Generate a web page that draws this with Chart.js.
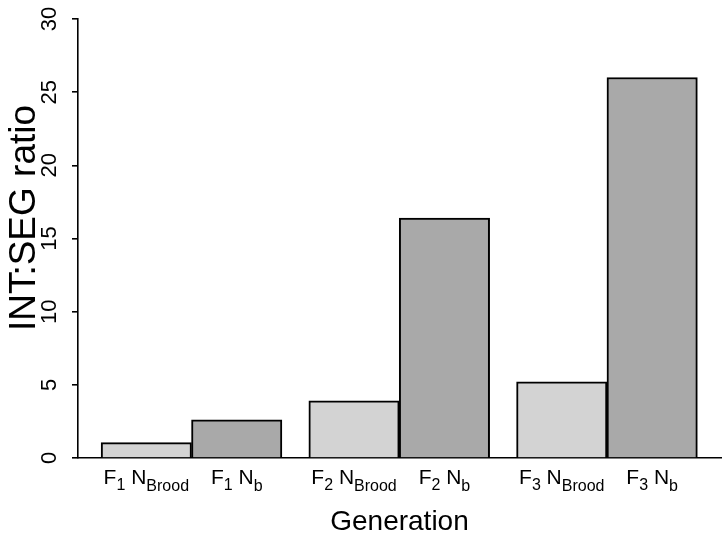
<!DOCTYPE html>
<html>
<head>
<meta charset="utf-8">
<script src="https://cdn.jsdelivr.net/npm/chart.js@4/dist/chart.umd.min.js"></script>
<style>
  html, body { margin: 0; padding: 0; background: #fff; }
  canvas { display: block; }
</style>
</head>
<body>
<canvas id="ratio-chart" width="725" height="534"></canvas>
<script>
const generations = ["1", "2", "3"];
const broodValues = [1.05, 3.9, 5.2];
const nbValues = [2.6, 16.4, 26.0];
const seriesSubs = ["Brood", "b"];
const yTicks = [0, 5, 10, 15, 20, 25, 30];

const FONT = "'Liberation Sans', Arial, Helvetica, sans-serif";

function toPoints(values) {
  return values.map((v, i) => ({ x: i + 1, y: v }));
}

const labelPlugin = {
  id: "rLabels",
  afterDraw(chart) {
    const { ctx, chartArea, scales } = chart;
    const y = scales.y;
    ctx.save();
    ctx.fillStyle = "#000";

    // y tick labels, rotated like R's las=0
    ctx.font = `22px ${FONT}`;
    ctx.textAlign = "center";
    ctx.textBaseline = "alphabetic";
    yTicks.forEach((v) => {
      const py = y.getPixelForValue(v);
      ctx.save();
      ctx.translate(56, py);
      ctx.rotate(-Math.PI / 2);
      ctx.fillText(String(v), 0, 0);
      ctx.restore();
    });

    // bar labels with subscripts
    ctx.textAlign = "left";
    const mainFont = `21px ${FONT}`;
    const subFont = `16px ${FONT}`;
    const baseY = 484;
    [0, 1].forEach((d) => {
      const meta = chart.getDatasetMeta(d);
      meta.data.forEach((bar, i) => {
        const parts = [
          ["F", mainFont, 0],
          [generations[i], subFont, 6],
          [" ", mainFont, 0],
          ["N", mainFont, 0],
          [seriesSubs[d], subFont, 7],
        ];
        let total = 0;
        parts.forEach(([t, f]) => {
          ctx.font = f;
          total += ctx.measureText(t).width;
        });
        let px = bar.x - total / 2;
        parts.forEach(([t, f, dy]) => {
          ctx.font = f;
          ctx.fillText(t, px, baseY + dy);
          px += ctx.measureText(t).width;
        });
      });
    });

    // axis titles
    ctx.textAlign = "center";
    ctx.font = `28px ${FONT}`;
    ctx.fillText("Generation", (chartArea.left + chartArea.right) / 2, 530);

    ctx.font = `37px ${FONT}`;
    ctx.save();
    ctx.translate(35, 218);
    ctx.rotate(-Math.PI / 2);
    ctx.fillText("INT:SEG ratio", 0, 0);
    ctx.restore();

    ctx.restore();
  },
};

new Chart(document.getElementById("ratio-chart"), {
  type: "bar",
  data: {
    datasets: [
      {
        label: "N Brood",
        data: toPoints(broodValues),
        backgroundColor: "#d3d3d3",
        borderColor: "#000",
        borderWidth: 2,
      },
      {
        label: "N b",
        data: toPoints(nbValues),
        backgroundColor: "#a9a9a9",
        borderColor: "#000",
        borderWidth: 2,
      },
    ],
  },
  options: {
    responsive: false,
    animation: false,
    barThickness: 90.4,
    layout: { padding: { top: 19, right: 4, left: 0, bottom: 0 } },
    plugins: {
      legend: { display: false },
      tooltip: { enabled: false },
    },
    scales: {
      x: {
        type: "linear",
        min: 0.4535,
        max: 3.549,
        offset: false,
        ticks: { display: false, stepSize: 1, includeBounds: false },
        grid: { display: false },
        border: { display: true, color: "#000", width: 1.6 },
        afterFit: (s) => { s.height = 76; },
      },
      y: {
        min: 0,
        max: 30,
        ticks: { display: false, stepSize: 5 },
        grid: {
          display: true,
          drawOnChartArea: false,
          drawTicks: true,
          tickLength: 6,
          color: "#000",
          lineWidth: 1.6,
        },
        border: { display: true, color: "#000", width: 1.6 },
        afterFit: (s) => { s.width = 78; },
      },
    },
  },
  plugins: [labelPlugin],
});
</script>
</body>
</html>
